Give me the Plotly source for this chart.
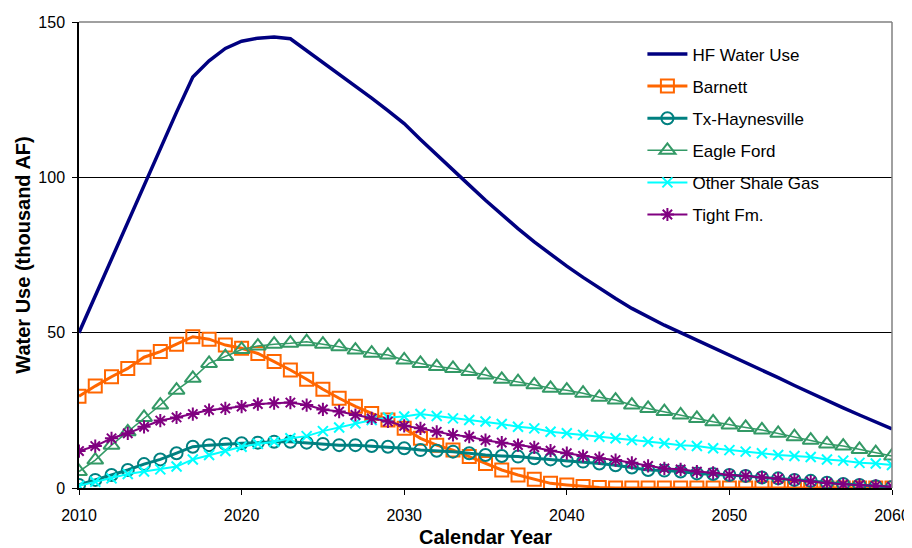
import plotly.graph_objects as go

# --- Data (thousand acre-feet per year) ---
years = list(range(2010, 2061))

hf_water_use = [50.0, 61.8, 73.5, 85.3, 97.2, 109.5, 121.0, 132.3, 137.5, 141.5,
                143.8, 144.8, 145.2, 144.6, 140.8, 137.2, 133.2, 129.5, 125.5, 121.5,
                117.3, 112.2, 107.2, 102.5, 97.5, 92.6, 88.0, 83.5, 79.2, 75.2,
                71.4, 67.8, 64.3, 61.0, 57.8, 55.0, 52.4, 50.0, 47.6, 45.3,
                43.0, 40.5, 38.0, 35.5, 33.0, 30.5, 28.0, 25.8, 23.5, 21.2, 19.0]

barnett = [29.5, 32.8, 35.8, 38.5, 42.1, 43.9, 46.3, 48.7, 47.9, 46.0,
           45.0, 43.3, 40.7, 38.0, 35.0, 31.8, 28.9, 26.3, 24.0, 21.9,
           19.2, 16.0, 13.8, 12.2, 10.1, 7.9, 5.8, 4.2, 2.8, 1.5,
           1.0, 0.5, 0.2, 0.0, 0.0, 0.0, 0.0, 0.0, 0.0, 0.0,
           0.0, 0.0, 0.0, 0.0, 0.0, 0.0, 0.0, 0.0, 0.0, 0.0, 0.0]

tx_haynesville = [1.0, 2.6, 4.2, 5.8, 7.7, 9.2, 11.2, 13.3, 13.8, 14.2,
                  14.4, 14.6, 14.9, 14.9, 14.6, 14.2, 13.8, 13.8, 13.5, 13.3,
                  12.8, 12.2, 12.0, 11.7, 11.2, 10.6, 10.3, 10.1, 9.6, 9.2,
                  8.8, 8.5, 7.9, 7.3, 6.6, 5.8, 5.6, 5.3, 4.7, 4.5,
                  4.2, 3.9, 3.4, 3.1, 2.6, 2.3, 1.7, 1.3, 1.0, 0.6, 0.3]

eagle_ford = [5.3, 9.0, 13.8, 18.1, 22.7, 26.7, 31.5, 35.3, 40.1, 42.3,
              44.6, 45.7, 46.3, 46.6, 47.1, 46.3, 45.5, 44.4, 43.4, 42.8,
              41.2, 40.1, 39.1, 38.5, 37.5, 36.4, 35.0, 34.2, 33.2, 32.1,
              31.5, 30.5, 29.2, 28.3, 26.7, 25.6, 24.6, 23.5, 22.4, 21.3,
              20.3, 19.5, 18.7, 17.6, 16.5, 15.4, 14.2, 13.5, 12.4, 11.4, 10.3]

other_shale = [0.7, 2.0, 3.1, 4.5, 5.3, 6.0, 6.9, 9.2, 10.6, 11.9,
               13.3, 14.2, 14.9, 16.0, 16.7, 18.3, 19.5, 20.8, 21.9, 22.7,
               23.0, 23.8, 23.2, 22.4, 21.9, 21.4, 20.6, 19.7, 19.2, 18.1,
               17.6, 17.1, 16.5, 16.0, 15.4, 14.9, 14.4, 13.8, 13.5, 12.8,
               12.2, 11.7, 11.2, 10.6, 10.3, 10.0, 9.2, 8.8, 8.1, 7.9, 7.4]

tight_fm = [11.9, 13.5, 16.0, 17.6, 19.7, 21.7, 22.7, 23.8, 25.1, 25.6,
            26.2, 27.0, 27.3, 27.5, 26.7, 25.3, 24.6, 23.5, 22.4, 21.4,
            20.0, 19.2, 18.1, 17.1, 16.5, 15.4, 14.6, 13.8, 13.1, 12.0,
            11.2, 10.3, 9.6, 9.0, 8.1, 7.1, 6.3, 6.0, 5.3, 4.9,
            4.2, 3.9, 3.4, 3.0, 2.6, 2.1, 1.6, 1.2, 1.0, 0.7, 0.4]

# --- Traces ---
fig = go.Figure()

fig.add_trace(go.Scatter(
    x=years, y=hf_water_use, mode='lines', name='HF Water Use',
    legendgroup='HF Water Use',
    line=dict(color='#000080', width=3.5)
))

# name, values, colour, symbol, marker size, line width
series = [
    ('Barnett', barnett, '#FF6600', 'square-open', 13, 3),
    ('Tx-Haynesville', tx_haynesville, '#008080', 'circle-open', 12, 3),
    ('Eagle Ford', eagle_ford, '#339966', 'triangle-up-open', 14, 1.5),
    ('Other Shale Gas', other_shale, '#00FFFF', 'x-thin-open', 10, 2),
    ('Tight Fm.', tight_fm, '#800080', 'asterisk-open', 11, 2),
]
for name, vals, color, symbol, size, lw in series:
    fig.add_trace(go.Scatter(
        x=years, y=vals, mode='lines+markers', name=name, legendgroup=name,
        line=dict(color=color, width=lw),
        marker=dict(symbol=symbol, size=size, color=color,
                    line=dict(color=color, width=2))
    ))

# --- Layout ---
# page body adds an 8px offset, so the figure is a bit smaller than the window
fig.update_layout(
    width=904, height=540,
    margin=dict(l=71, r=20, t=14, b=60, autoexpand=False),
    plot_bgcolor='white', paper_bgcolor='white',
    font=dict(family='Liberation Sans, Arial, sans-serif', size=16, color='black'),
    showlegend=True,
    legend=dict(x=0.693, y=0.969, xanchor='left', yanchor='top',
                bgcolor='rgba(255,255,255,0)', borderwidth=0,
                font=dict(size=17), itemwidth=40,
                traceorder='grouped', tracegroupgap=7),
    shapes=[
        # white legend panel hides the grid line behind it
        dict(type='rect', xref='paper', yref='paper', x0=0.637, x1=0.977, y0=0.56, y1=1,
             fillcolor='white', line=dict(width=0), layer='between'),
        # grey top and right frame
        dict(type='line', xref='paper', yref='paper', x0=0, x1=1, y0=1, y1=1,
             line=dict(color='#808080', width=1.5)),
        dict(type='line', xref='paper', yref='paper', x0=1, x1=1, y0=0, y1=1,
             line=dict(color='#808080', width=1.5)),
    ],
)

fig.update_xaxes(
    range=[2010, 2060], dtick=10, tick0=2010, automargin=False,
    showgrid=False, zeroline=False,
    showline=True, linecolor='black', linewidth=1.5,
    ticks='outside', ticklen=5, tickcolor='black',
    tickfont=dict(size=16), ticklabelstandoff=7,
    title=dict(text='<b>Calendar Year</b>', font=dict(size=20), standoff=16),
)
fig.update_yaxes(
    range=[0, 150], dtick=50, automargin=False,
    showgrid=True, gridcolor='black', gridwidth=1, zeroline=False,
    showline=True, linecolor='black', linewidth=1.5,
    ticks='outside', ticklen=5, tickcolor='black',
    tickfont=dict(size=16), ticklabelstandoff=4,
    title=dict(text='<b>Water Use (thousand AF)</b>', font=dict(size=20), standoff=2),
)

fig.write_html('out.html')
